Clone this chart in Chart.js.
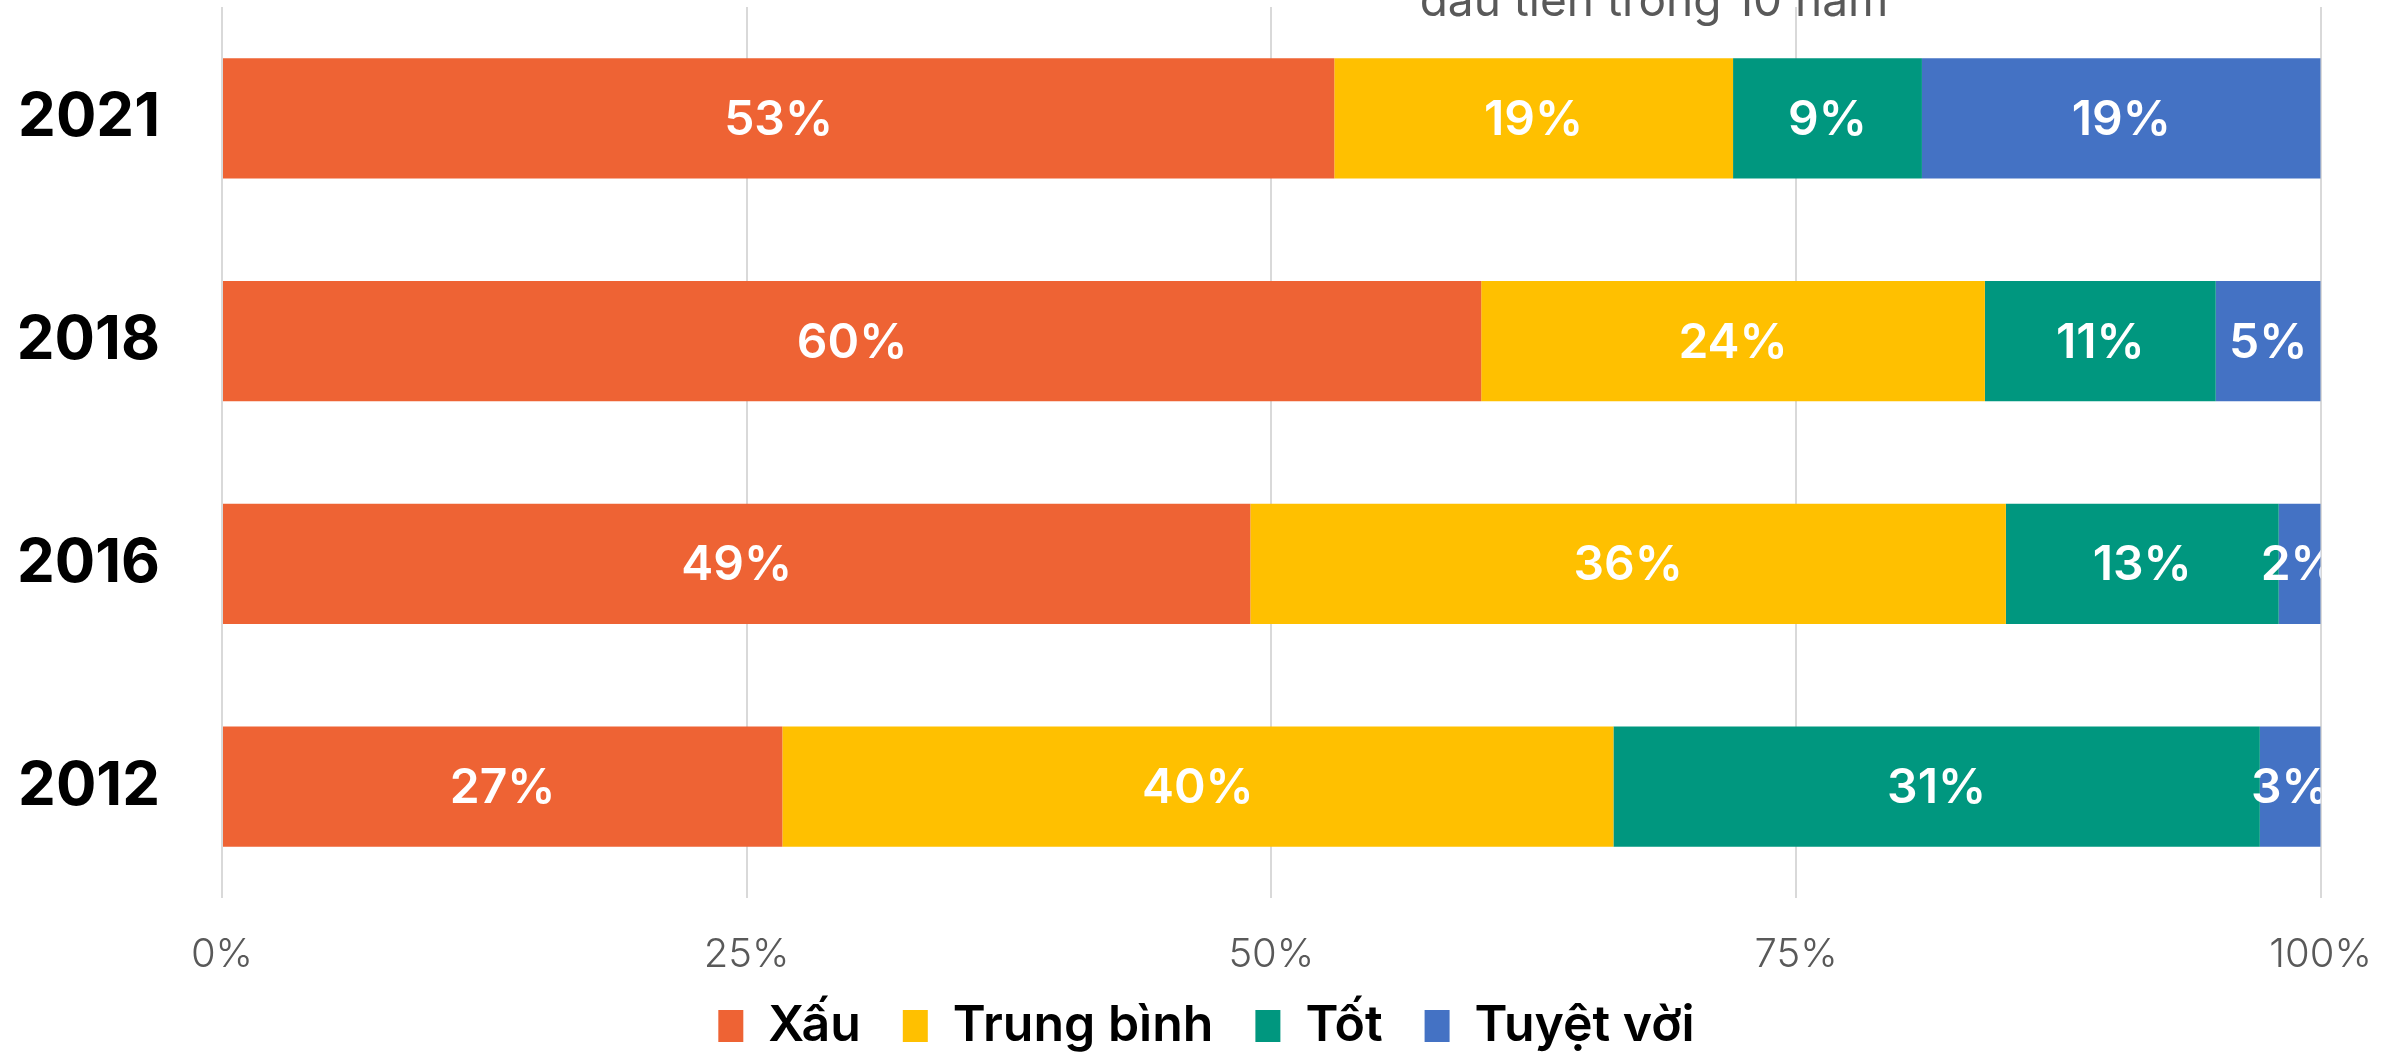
<!DOCTYPE html>
<html>
<head>
<meta charset="utf-8">
<script src="https://cdn.jsdelivr.net/npm/chart.js@4.4.0/dist/chart.umd.min.js"></script>
<style>
html, body { margin: 0; padding: 0; background: #fff; }
</style>
</head>
<body>
<canvas id="chart" width="2405" height="1054"></canvas>
<script>
const years = ['2021', '2018', '2016', '2012'];
const xau = [53, 60, 49, 26.7];
const trungBinh = [19, 24, 36, 39.6];
const tot = [9, 11, 13, 30.8];
const tuyetVoi = [19, 5, 2, 2.9];
const seriesNames = ['Xấu', 'Trung bình', 'Tốt', 'Tuyệt vời'];
const colors = ['#EE6334', '#FFC000', '#00977F', '#4472C4'];
const xTicks = [0, 25, 50, 75, 100];
const note = 'đầu tiên trong 10 năm';

Chart.defaults.font.family = 'Inter';

// white % labels in the middle of each segment, clipped to the plot
const barLabels = {
    id: 'barLabels',
    afterDatasetsDraw(chart) {
        const { ctx, chartArea: a } = chart;
        ctx.save();
        ctx.beginPath();
        ctx.rect(a.left, a.top, a.right - a.left, a.bottom - a.top);
        ctx.clip();
        ctx.font = '600 48px Inter';
        ctx.fillStyle = '#fff';
        ctx.textAlign = 'center';
        ctx.textBaseline = 'middle';
        chart.data.datasets.forEach((ds, i) => {
            chart.getDatasetMeta(i).data.forEach((bar, j) => {
                const { x, base, y } = bar.getProps(['x', 'base', 'y'], true);
                ctx.fillText(Math.round(ds.data[j]) + '%', (x + base) / 2, y + 2);
            });
        });
        ctx.restore();
    }
};

// cut-off note at the top + nudge the legend into place
const extras = {
    id: 'extras',
    afterLayout(chart) {
        const lg = chart.legend;
        lg.top -= 19;
        lg.bottom -= 19;
        lg.left += 46;
        lg.right += 46;
    },
    afterDraw(chart) {
        const ctx = chart.ctx;
        ctx.save();
        ctx.font = '400 46px Inter';
        ctx.fillStyle = '#595959';
        ctx.textAlign = 'center';
        ctx.textBaseline = 'alphabetic';
        ctx.fillText(note, 1654, 16);
        ctx.restore();
    }
};

const series = [xau, trungBinh, tot, tuyetVoi];

new Chart(document.getElementById('chart'), {
    type: 'bar',
    data: {
        labels: years,
        datasets: series.map((d, i) => ({
            label: seriesNames[i],
            data: d,
            backgroundColor: colors[i],
            borderWidth: 0,
            barPercentage: 0.54,
            categoryPercentage: 1
        }))
    },
    options: {
        indexAxis: 'y',
        responsive: false,
        animation: false,
        devicePixelRatio: 1,
        layout: { padding: { top: 7, right: 84, left: 0, bottom: -26 } },
        scales: {
            x: {
                stacked: true,
                min: 0,
                max: 100,
                afterBuildTicks: s => { s.ticks = xTicks.map(v => ({ value: v })); },
                afterFit: s => { s.height = 80; },
                grid: { color: '#D9D9D9', lineWidth: 2, drawTicks: false },
                border: { display: false },
                ticks: {
                    padding: 33,
                    color: '#595959',
                    font: { size: 40, weight: 300 },
                    callback: v => v + '%'
                }
            },
            y: {
                stacked: true,
                afterFit: s => { s.width = 222; s.paddingTop = 0; s.paddingBottom = 0; },
                grid: { display: false },
                border: { display: false },
                ticks: {
                    padding: 54,
                    color: '#000',
                    font: { size: 60, weight: 'bold' }
                }
            }
        },
        plugins: {
            legend: {
                position: 'bottom',
                labels: {
                    boxWidth: 25,
                    boxHeight: 32,
                    padding: 42,
                    color: '#000',
                    font: { size: 50, weight: 600 }
                }
            },
            tooltip: { enabled: false }
        }
    },
    plugins: [barLabels, extras]
});
</script>
</body>
</html>
